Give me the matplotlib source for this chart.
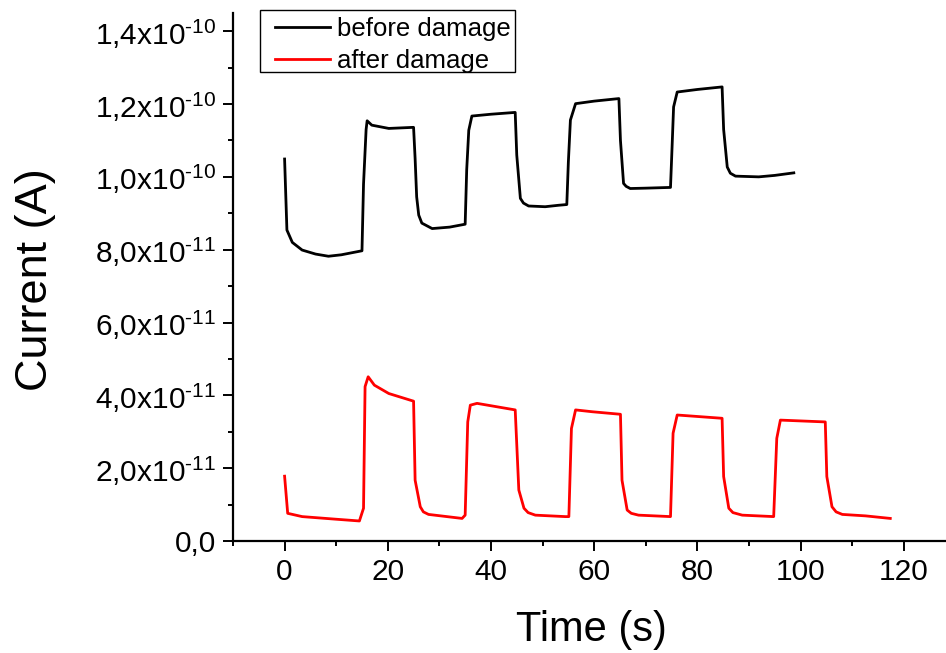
import matplotlib
matplotlib.use("Agg")
import matplotlib.pyplot as plt
from matplotlib.patches import Rectangle
from matplotlib.ticker import FixedLocator, FixedFormatter, MultipleLocator

plt.rcParams['font.family'] = ['Liberation Sans', 'DejaVu Sans']
plt.rcParams['mathtext.fontset'] = 'custom'
plt.rcParams['mathtext.rm'] = 'Liberation Sans'
plt.rcParams['mathtext.it'] = 'Liberation Sans'

# before damage (time s, current in 1e-11 A)
t_before = [0.0, 0.45, 1.5, 3.4, 6.0, 8.5, 11.0, 15.0, 15.3, 15.8, 16.0, 16.9, 20.2, 25.0,
            25.3, 25.6, 26.0, 26.6, 28.6, 32.0, 35.0, 35.3, 35.7, 36.3, 40.0, 44.7,
            45.0, 45.7, 46.3, 47.3, 50.5, 53.1, 54.7, 55.0, 55.4, 56.4, 60.0, 64.8,
            65.1, 65.7, 66.2, 67.0, 70.0, 74.8, 75.1, 75.4, 76.1, 80.0, 84.8,
            85.1, 85.8, 86.4, 87.4, 91.9, 95.0, 98.7]
i_before = [10.49, 8.54, 8.2, 7.99, 7.88, 7.82, 7.86, 7.97, 9.8, 11.3, 11.54, 11.42, 11.33, 11.36,
            10.5, 9.45, 8.95, 8.73, 8.58, 8.62, 8.70, 10.2, 11.28, 11.67, 11.72, 11.77,
            10.6, 9.41, 9.28, 9.20, 9.18, 9.22, 9.24, 10.4, 11.56, 12.01, 12.08, 12.15,
            11.0, 9.82, 9.74, 9.68, 9.69, 9.71, 10.8, 11.92, 12.33, 12.40, 12.47,
            11.3, 10.27, 10.10, 10.02, 10.0, 10.04, 10.11]

# after damage (time s, current in 1e-11 A)
t_after = [0.0, 0.6, 3.4, 9.8, 14.5, 15.3, 15.6, 16.2, 17.4, 20.2, 25.0,
           25.3, 26.3, 26.9, 27.9, 34.4, 35.0, 35.5, 36.0, 37.3, 44.7,
           45.4, 46.4, 47.2, 48.6, 54.4, 55.1, 55.6, 56.4, 59.6, 65.1,
           65.4, 66.4, 67.2, 68.6, 74.8, 75.3, 76.1, 84.8,
           85.1, 86.1, 86.9, 88.7, 94.8, 95.4, 96.1, 104.8,
           105.1, 106.1, 106.9, 108.1, 112.6, 117.4]
i_after = [1.78, 0.76, 0.67, 0.60, 0.55, 0.90, 4.24, 4.51, 4.28, 4.05, 3.84,
           1.67, 0.94, 0.80, 0.73, 0.62, 0.71, 3.27, 3.73, 3.78, 3.60,
           1.40, 0.90, 0.78, 0.71, 0.67, 0.67, 3.09, 3.60, 3.55, 3.48,
           1.67, 0.85, 0.76, 0.71, 0.67, 2.96, 3.46, 3.37,
           1.77, 0.90, 0.78, 0.71, 0.67, 2.82, 3.32, 3.27,
           1.77, 0.94, 0.80, 0.73, 0.69, 0.62]

y_ticks = [0.0, 2e-11, 4e-11, 6e-11, 8e-11, 1.0e-10, 1.2e-10, 1.4e-10]
y_tick_labels = ['0,0', r'2,0x10$^{\text{-11}}$', r'4,0x10$^{\text{-11}}$',
                 r'6,0x10$^{\text{-11}}$', r'8,0x10$^{\text{-11}}$',
                 r'1,0x10$^{\text{-10}}$', r'1,2x10$^{\text{-10}}$',
                 r'1,4x10$^{\text{-10}}$']
x_ticks = [0, 20, 40, 60, 80, 100, 120]

W, H = 946, 653
fig = plt.figure(figsize=(W / 100, H / 100), dpi=100)
ax = fig.add_axes([233 / W, 1 - 541 / H, (W - 233) / W, (541 - 13) / H])

scale = 1e-11
ax.plot(t_before, [v * scale for v in i_before], color='black', lw=2.0, label='before damage')
ax.plot(t_after, [v * scale for v in i_after], color='#ff0000', lw=2.0, label='after damage')

ax.set_xlim(-10, 128.2)
ax.set_ylim(0, 1.45e-10)

ax.yaxis.set_major_locator(FixedLocator(y_ticks))
ax.yaxis.set_major_formatter(FixedFormatter(y_tick_labels))
ax.yaxis.set_minor_locator(MultipleLocator(1e-11))
ax.xaxis.set_major_locator(FixedLocator(x_ticks))
ax.xaxis.set_minor_locator(MultipleLocator(10))

for s in ['top', 'right']:
    ax.spines[s].set_visible(False)
for s in ['left', 'bottom']:
    ax.spines[s].set_linewidth(1.6)

ax.tick_params(which='major', direction='out', length=7, width=1.4, labelsize=21.5, pad=5)
ax.tick_params(which='minor', direction='out', length=3.5, width=1.4)

fig.text(591 / W, 1 - 630 / H, 'Time (s)', ha='center', va='center', fontsize=30)
fig.text(35 / W, 1 - 280 / H, 'Current (A)', ha='center', va='center', rotation=90, fontsize=32.5)

leg = ax.legend(loc='upper left', bbox_to_anchor=(275 / W, 1 - 17 / H),
                bbox_transform=fig.transFigure,
                borderaxespad=0, fontsize=18.5, frameon=False,
                handlelength=2.14, handletextpad=0.27, borderpad=0, labelspacing=0.30)
fig.patches.append(Rectangle((260 / W, 1 - 72 / H), (515 - 260) / W, (72 - 10) / H,
                             transform=fig.transFigure, fill=False, edgecolor='black',
                             linewidth=1.0, zorder=5))

fig.savefig('out.png', dpi=100)
